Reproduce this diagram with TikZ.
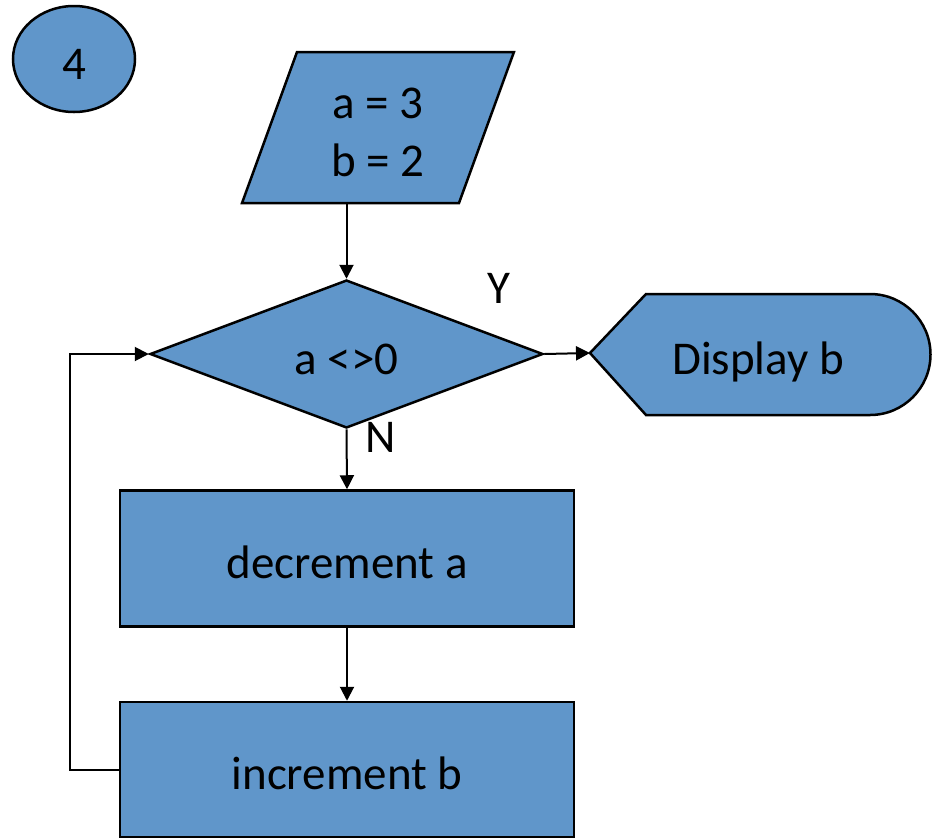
\documentclass[tikz,border=0pt]{standalone}
\usepackage{fontspec}
\setmainfont{Carlito}
\usetikzlibrary{shapes.geometric, arrows.meta}
\definecolor{boxblue}{RGB}{96,150,202}

\begin{document}
\begin{tikzpicture}[x=1pt, y=-1pt,
		txt/.style={font=\fontsize{47}{58}\selectfont},
		oneline/.style={text height=40pt, text depth=0pt},
		box/.style={txt, draw, fill=boxblue, line width=2.5pt, inner sep=0pt},
		flow/.style={line width=2pt, -{Triangle[length=14pt, width=14pt]}}]
	\useasboundingbox (0,0) rectangle (932,839);
	
	% Draw the number and the input
	\node[box, oneline, ellipse, minimum width=122pt, minimum height=106pt] (num) at (74,59) {4};
	\node[box, trapezium, trapezium left angle=70, trapezium right angle=110,
		text width=162pt, align=flush center, text height=39pt, text depth=58pt,
		inner ysep=27pt] (input) at (378,127.5) {a = 3\\b = 2};
	
	% Draw the test and the steps
	\node[box, oneline, diamond, minimum width=393pt, minimum height=148pt] (cond) at (346.5,354) {a <>0};
	\node[box, oneline, minimum width=454pt, minimum height=136pt] (dec) at (347,558.5) {decrement a};
	\node[box, oneline, minimum width=454pt, minimum height=135pt] (inc) at (347,769.5) {increment b};
	
	% Draw the display shape
	\filldraw[fill=boxblue, line width=2.5pt] (590,353) -- (646,294) -- (870,294)
		arc (-90:90:60.5) -- (646,415) -- cycle;
	\coordinate (disptip) at (590,353);
	\node[txt, oneline] (disp) at (758,354) {Display b};
	
	% Label the branches
	\node[txt] (yes) at (499,288) {Y};
	\node[txt] (no) at (381,437) {N};
	
	% Draw the connectors
	\draw[flow] (cond.north |- input.south) -- (cond.north);
	\draw[flow] (cond.east) -- (disptip);
	\draw[flow] (cond.south) -- (dec.north);
	\draw[flow] (dec.south) -- (inc.north);
	\draw[flow] (inc.west) -- ++(-49,0) |- (cond.west);
\end{tikzpicture}
\end{document}
